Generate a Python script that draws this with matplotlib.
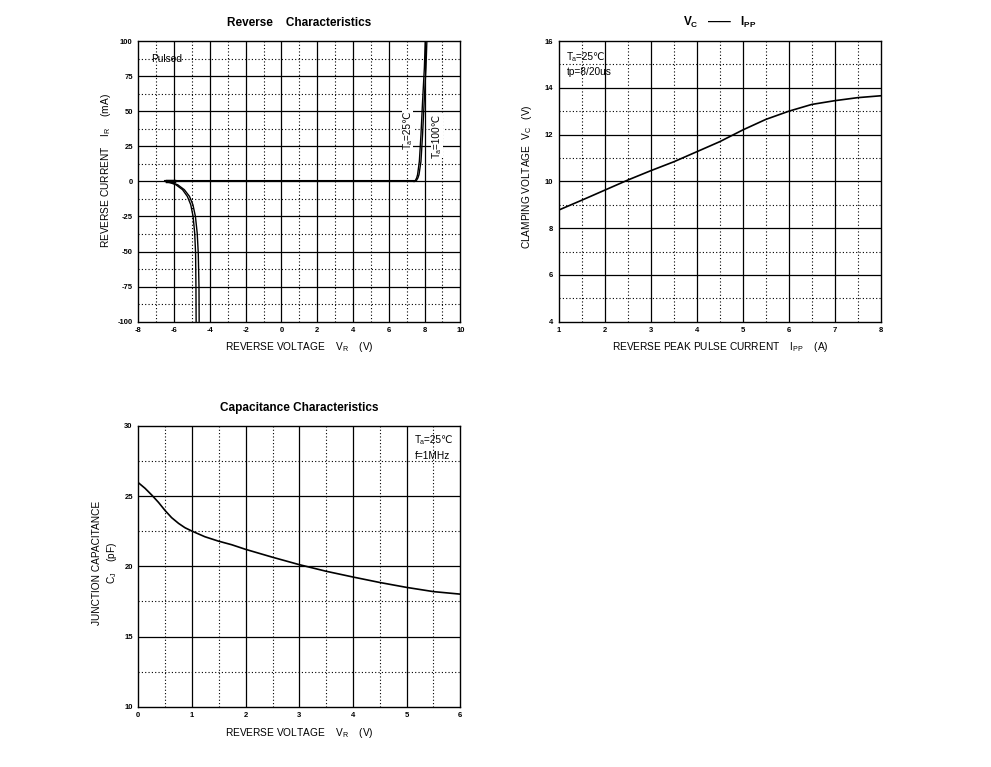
import numpy as np
import matplotlib
matplotlib.use('Agg')
import matplotlib.pyplot as plt

plt.rcParams['font.family'] = ['Liberation Sans', 'DejaVu Sans']
plt.rcParams['mathtext.fontset'] = 'custom'
plt.rcParams['mathtext.rm'] = 'Liberation Sans'
plt.rcParams['mathtext.bf'] = 'Liberation Sans:bold'
plt.rcParams['axes.unicode_minus'] = False

# reverse characteristics
rev_flat_v = [-6.5, 7.42]
rev_flat_i = [0, 0]
pos_i = [0, 0.5, 2.5, 4.8, 14.3, 33.3, 57, 81, 100]
pos25_v = [7.40, 7.48, 7.56, 7.61, 7.71, 7.80, 7.89, 7.99, 8.04]
pos100_v = [7.45, 7.54, 7.63, 7.69, 7.80, 7.89, 7.98, 8.08, 8.13]
neg_i = [0, -1, -2.4, -5.9, -10.7, -16.6, -24.9, -36.8, -51, -75, -100]
neg25_v = [-6.50, -6.20, -5.90, -5.53, -5.26, -5.07, -4.94, -4.85, -4.80,
           -4.78, -4.77]
neg100_v = [-6.45, -6.12, -5.80, -5.43, -5.14, -4.95, -4.81, -4.71, -4.65,
            -4.61, -4.60]

# clamping voltage vs peak pulse current
ipp = [1, 1.5, 2, 2.5, 3, 3.5, 4, 4.5, 5, 5.5, 6, 6.5, 7, 7.5, 8]
vc = [8.78, 9.20, 9.63, 10.06, 10.46, 10.84, 11.27, 11.70, 12.20, 12.65,
      13.0, 13.29, 13.45, 13.58, 13.66]

# junction capacitance vs reverse voltage
vr = [0, 0.125, 0.25, 0.375, 0.5, 0.62, 0.75, 0.87, 1.0, 1.24, 1.49, 1.74,
      2.0, 2.5, 3, 3.5, 4, 4.5, 5, 5.5, 6]
cj = [25.96, 25.56, 25.08, 24.56, 23.97, 23.47, 23.06, 22.75, 22.51, 22.11,
      21.80, 21.54, 21.21, 20.65, 20.12, 19.65, 19.24, 18.85, 18.5, 18.2,
      18.02]

TICK_FS = 5.5
LAB_FS = 7.3
TITLE_FS = 8.5
NOTE_FS = 7.3


def style_axes(ax, xmaj, xmin, ymaj, ymin):
    '''datasheet-style grid: solid major lines, dotted minor lines'''
    ax.set_xticks(xmaj)
    ax.set_yticks(ymaj)
    ax.set_xlim(xmaj[0], xmaj[-1])
    ax.set_ylim(ymaj[0], ymaj[-1])
    for v in xmaj[1:-1]:
        ax.axvline(v, color='black', lw=0.9, zorder=1)
    for v in xmin:
        ax.axvline(v, color='black', lw=0.8, ls=(0, (1, 2)), zorder=1)
    for v in ymaj[1:-1]:
        ax.axhline(v, color='black', lw=0.9, zorder=1)
    for v in ymin:
        ax.axhline(v, color='black', lw=0.8, ls=(0, (1, 2)), zorder=1)
    ax.tick_params(length=0, labelsize=TICK_FS, pad=4)
    for lab in ax.get_xticklabels() + ax.get_yticklabels():
        lab.set_fontweight('bold')
    for s in ax.spines.values():
        s.set_linewidth(1.0)


fig = plt.figure(figsize=(9.91, 7.67), dpi=100)

# --- Reverse Characteristics ---
ax1 = fig.add_axes([0.1396, 0.5805, 0.3249, 0.3660])
style_axes(ax1, list(range(-8, 11, 2)), list(range(-7, 10, 2)),
           list(range(-100, 101, 25)), list(np.arange(-87.5, 100, 25)))
ax1.plot(rev_flat_v, rev_flat_i, color='black', lw=1.5, zorder=3)
ax1.plot([-6.4, -6.0], [0, 0], color='black', lw=2.5, zorder=3)
for vv, ii in [(pos25_v, pos_i), (pos100_v, pos_i),
               (neg25_v, neg_i), (neg100_v, neg_i)]:
    ax1.plot(vv, ii, color='black', lw=1.0, zorder=3)
ax1.text(-7.3, 87.5, 'Pulsed', fontsize=NOTE_FS, va='center', ha='left',
         zorder=4)
ax1.text(7.05, 36.6, 'Tₐ=25℃', rotation=90, fontsize=NOTE_FS,
         ha='center', va='center', zorder=4,
         bbox=dict(fc='white', ec='none', pad=0.5))
ax1.text(8.7, 32.5, 'Tₐ=100℃', rotation=90, fontsize=NOTE_FS,
         ha='center', va='center', zorder=4,
         bbox=dict(fc='white', ec='none', pad=0.5))
ax1.set_title('Reverse    Characteristics', fontsize=TITLE_FS,
              fontweight='bold', pad=11)
ax1.set_xlabel('REVERSE VOLTAGE    V$_\\mathregular{R}$    (V)',
               fontsize=LAB_FS, labelpad=4)
ax1.set_ylabel('REVERSE CURRENT    I$_\\mathregular{R}$    (mA)',
               fontsize=LAB_FS)
ax1.yaxis.set_label_coords(-0.079, 0.537)

# --- Vc - Ipp ---
ax2 = fig.add_axes([0.5641, 0.5805, 0.3246, 0.3660])
style_axes(ax2, list(range(1, 9)), list(np.arange(1.5, 8, 1.0)),
           list(range(4, 17, 2)), list(range(5, 16, 2)))
ax2.plot(ipp, vc, color='black', lw=1.2, zorder=3)
ax2.text(1.17, 15.32, 'Tₐ=25℃', fontsize=NOTE_FS,
         va='center', ha='left', zorder=4)
ax2.text(1.17, 14.67, 'tp=8/20us', fontsize=NOTE_FS, va='center',
         ha='left', zorder=4)
ax2.set_title('V$_\\mathregular{C}$   ——   I$_\\mathregular{PP}$',
              fontsize=TITLE_FS, fontweight='bold', pad=11)
ax2.set_xlabel('REVERSE PEAK PULSE CURRENT    I$_\\mathregular{PP}$    (A)',
               fontsize=LAB_FS, labelpad=4)
ax2.set_ylabel('CLAMPING VOLTAGE  V$_\\mathregular{C}$   (V)',
               fontsize=LAB_FS)
ax2.yaxis.set_label_coords(-0.079, 0.518)

# --- Capacitance Characteristics ---
ax3 = fig.add_axes([0.1396, 0.0786, 0.3249, 0.3660])
style_axes(ax3, list(range(0, 7)), list(np.arange(0.5, 6, 1.0)),
           list(range(10, 31, 5)), list(np.arange(12.5, 30, 5)))
ax3.plot(vr, cj, color='black', lw=1.2, zorder=3)
ax3.text(5.16, 29.0, 'Tₐ=25℃', fontsize=NOTE_FS,
         va='center', ha='left', zorder=4)
ax3.text(5.16, 27.86, 'f=1MHz', fontsize=NOTE_FS, va='center', ha='left',
         zorder=4)
ax3.set_title('Capacitance Characteristics', fontsize=TITLE_FS,
              fontweight='bold', pad=11)
ax3.set_xlabel('REVERSE VOLTAGE    V$_\\mathregular{R}$    (V)',
               fontsize=LAB_FS, labelpad=5)
ax3.set_ylabel('JUNCTION CAPACITANCE\nC$_\\mathregular{J}$    (pF)',
               fontsize=LAB_FS, linespacing=1.35)
ax3.yaxis.set_label_coords(-0.06, 0.512)

fig.savefig('out.png', dpi=100)
